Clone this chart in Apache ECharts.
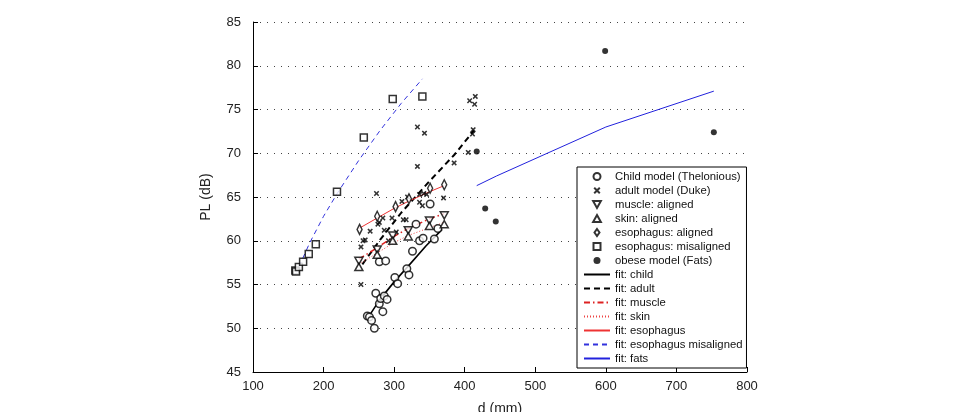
<!DOCTYPE html>
<html><head><meta charset="utf-8">
<script src="https://cdn.jsdelivr.net/npm/echarts@6/dist/echarts.min.js"></script>
<style>html,body{margin:0;padding:0;background:#fff}#c{width:962px;height:412px}</style>
</head><body><div id="c"></div>
<script>
// ---- data (d in mm, PL in dB) ----
const childData = [[262,51.4],[265,51.3],[268,50.9],[272,50.0],[274,54.0],[279,52.8],[281,53.4],[284,51.9],[286,53.7],[290,53.3],[279,57.6],[288,57.7],[301,55.8],[305,55.1],[318,56.8],[321,56.1],[326,58.8],[331,61.9],[336,60.0],[341,60.3],[351,64.2],[357,60.2],[362,61.4]];
const adultData = [[253,55.0],[253,59.3],[256,60.0],[259,60.1],[266,61.1],[275,65.4],[277,61.9],[279,62.1],[284,62.6],[286,61.2],[292,60.0],[297,62.6],[303,61.0],[311,64.5],[313,62.4],[317,62.4],[319,65.0],[333,73.0],[333,68.5],[336,65.3],[336,64.4],[340,64.0],[342,65.4],[343,72.3],[346,65.3],[370,64.9],[385,68.9],[405,70.1],[407,76.0],[411,72.2],[412,72.7],[414,75.6],[415,76.5]];
const muscleData = [[250,57.7],[276,59.0],[298,60.6],[320,61.2],[350,62.3],[371,62.9]];
const skinData = [[250,57.0],[276,58.4],[298,60.0],[320,60.5],[350,61.7],[371,61.9]];
const esoData = [[251,61.3],[276,62.8],[302,63.9],[321,64.8],[351,66.0],[371,66.4]];
const esoMisData = [[160,56.6],[161,56.5],[165,57.0],[171,57.6],[179,58.5],[189,59.6],[219,65.6],[257,71.8],[298,76.2],[340,76.5]];
const obeseData = [[417,70.2],[429,63.7],[444,62.2],[599,81.7],[753,72.4]];

const fitChild = [[262,51.1],[280,53.3],[300,55.3],[320,57.1],[345,59.4],[368,61.3]];
const fitAdult = [[255,57.3],[280,60.1],[310,63.2],[350,66.8],[385,69.8],[413,72.6]];
const fitMuscle = [[250,57.9],[276,59.2],[300,60.5],[320,61.4],[350,62.5],[371,63.1]];
const fitSkin = [[250,57.3],[276,58.6],[300,59.8],[320,60.6],[350,61.5],[371,62.1]];
const fitEso = [[250,61.4],[276,62.6],[300,63.7],[320,64.5],[350,65.6],[371,66.3]];
const fitEsoMis = [[160,56.1],[180,59.7],[200,62.8],[220,65.5],[250,69.2],[280,72.6],[310,75.7],[340,78.5]];
const fitFats = [[417,66.3],[445,67.4],[600,73.0],[753,77.1]];

const xTicks = {min:100, max:800, interval:100};
const yTicks = {min:45, max:85, interval:5};

const FONT = "'Liberation Sans', Arial, Helvetica, sans-serif";
const XMARK = 'path://M0,2L2,0L5,3L8,0L10,2L7,5L10,8L8,10L5,7L2,10L0,8L3,5Z';
const DOWNTRI = 'path://M0,0L10,0L5,9Z';
const UPTRI = 'path://M5,0L10,9L0,9Z';
const DIAMOND = 'path://M5,0L10,7L5,14L0,7Z';
const SQUARE = 'path://M0,0L10,0L10,10L0,10Z';

function scatter(name, data, symbol, size, filled){
  return {name, type:'scatter', data, symbol, symbolSize:size, z:5, symbolKeepAspect:true,
    itemStyle: filled ? {color:'#000', borderColor:'#000', borderWidth:0}
                      : {color:'#fff', borderColor:'#000', borderWidth:1.5}};
}
function fit(name, data, color, type, width){
  return {name, type:'line', data, symbol:'none', z:3, smooth:false,
    lineStyle:{color, type, width}, itemStyle:{color}};
}

const series = [
  scatter('Child model (Thelonious)', childData, 'circle', 7.5, false),
  scatter('adult model (Duke)', adultData, XMARK, 5.5, true),
  scatter('muscle: aligned', muscleData, DOWNTRI, 8, false),
  scatter('skin: aligned', skinData, UPTRI, 8, false),
  scatter('esophagus: aligned', esoData, DIAMOND, [7,10], false),
  scatter('esophagus: misaligned', esoMisData, SQUARE, 7, false),
  scatter('obese model (Fats)', obeseData, 'circle', 6, true),
  fit('fit: child', fitChild, '#000', 'solid', 1.6),
  fit('fit: adult', fitAdult, '#000', [6,4], 2),
  fit('fit: muscle', fitMuscle, '#dd2222', [6,3,1.5,3], 1.5),
  fit('fit: skin', fitSkin, '#ee4444', [1,2], 1),
  fit('fit: esophagus', fitEso, '#ee3333', 'solid', 1),
  fit('fit: esophagus misaligned', fitEsoMis, '#3333dd', [5,4], 1),
  fit('fit: fats', fitFats, '#2222dd', 'solid', 1)
];

const legendData = series.map(s => s.type === 'line'
  ? {name:s.name, itemStyle:{opacity:0}}
  : {name:s.name});

const chart = echarts.init(document.getElementById('c'), null, {renderer:'canvas'});
chart.setOption({
  animation:false,
  backgroundColor:'#fff',
  textStyle:{fontFamily:FONT},
  grid:{left:253, right:215, top:22, bottom:40, containLabel:false, outerBoundsMode:'none'},
  xAxis:{type:'value', min:xTicks.min, max:xTicks.max, interval:xTicks.interval,
    name:'d (mm)', nameLocation:'middle', nameGap:30,
    nameTextStyle:{fontSize:14, color:'#222', fontFamily:FONT},
    axisLine:{onZero:false, lineStyle:{color:'#000', width:1}},
    axisTick:{inside:true, length:5, lineStyle:{color:'#000'}},
    axisLabel:{fontSize:13, color:'#222', margin:8, fontFamily:FONT},
    splitLine:{show:false}},
  yAxis:{type:'value', min:yTicks.min, max:yTicks.max, interval:yTicks.interval,
    name:'PL (dB)', nameLocation:'middle', nameGap:40, nameRotate:90,
    nameTextStyle:{fontSize:14, color:'#222', fontFamily:FONT},
    axisLine:{show:true, onZero:false, lineStyle:{color:'#000', width:1}},
    axisTick:{show:true, inside:true, length:5, lineStyle:{color:'#000'}},
    axisLabel:{fontSize:13, color:'#222', margin:12, fontFamily:FONT},
    splitLine:{show:true, lineStyle:{color:'#444', type:[1,6], width:1}}},
  legend:{orient:'vertical', left:577, top:167, itemWidth:26, itemHeight:7, itemGap:3,
    symbolKeepAspect:true,
    padding:[4,4,4,6], borderColor:'#000', borderWidth:1, backgroundColor:'#fff',
    textStyle:{fontSize:11.3, color:'#111', fontFamily:FONT},
    data: legendData},
  series
});
</script>
</body></html>
